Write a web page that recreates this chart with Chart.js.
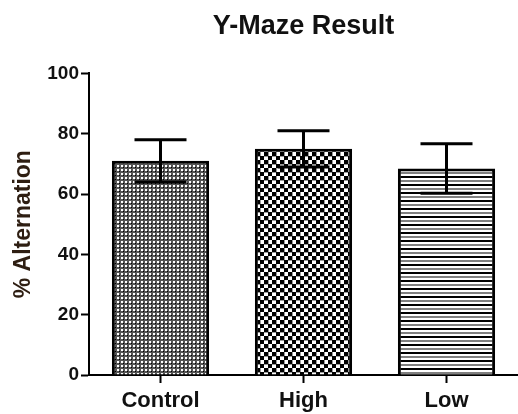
<!DOCTYPE html>
<html>
<head>
<meta charset="utf-8">
<script src="https://cdn.jsdelivr.net/npm/chart.js@4"></script>
<style>
  html, body { margin: 0; padding: 0; background: #fff; }
  #wrap { width: 518px; height: 414px; }
</style>
</head>
<body>
<div id="wrap"><canvas id="maze" width="518" height="414"></canvas></div>
<script>
// values
const groups = ["Control", "High", "Low"];
const meanAlt = [71, 75, 68.5];
const semAlt = [7, 6, 8.2];
const yTicks = [0, 20, 40, 60, 80, 100];

const FONT = "'Liberation Sans', Arial, sans-serif";

/* ---------- fill patterns ---------- */
function makePattern(w, h, paint) {
    const c = document.createElement("canvas");
    c.width = w;
    c.height = h;
    const g = c.getContext("2d");
    paint(g);
    return g.createPattern(c, "repeat");
}

// fine grey dotted texture
const dotFill = makePattern(4, 4, g => {
    g.fillStyle = "#555555";
    g.fillRect(0, 0, 4, 4);
    g.fillStyle = "#ffffff";
    g.fillRect(1, 1, 2, 2);
    g.fillStyle = "#000000";
    g.fillRect(3, 3, 1, 1);
});

// coarse checker
const checkFill = makePattern(8, 8, g => {
    g.fillStyle = "#ffffff";
    g.fillRect(0, 0, 8, 8);
    g.fillStyle = "#000000";
    g.fillRect(0, 0, 4, 4);
    g.fillRect(4, 4, 4, 4);
    g.fillStyle = "#9a9a9a";
    g.fillRect(4, 0, 1, 4);
    g.fillRect(0, 4, 4, 1);
});

// horizontal stripes
const stripeFill = makePattern(4, 8, g => {
    g.fillStyle = "#ffffff";
    g.fillRect(0, 0, 4, 8);
    g.fillStyle = "#000000";
    g.fillRect(0, 0, 4, 2);
    g.fillStyle = "#808080";
    g.fillRect(0, 4, 4, 2);
});

/* ---------- error bars ---------- */
const errorBars = {
    id: "errorBars",
    afterDatasetsDraw(chart) {
        const ctx = chart.ctx;
        const y = chart.scales.y;
        const meta = chart.getDatasetMeta(0);
        ctx.save();
        ctx.strokeStyle = "#000";
        ctx.lineWidth = 3;
        meta.data.forEach((bar, i) => {
            const top = y.getPixelForValue(meanAlt[i] + semAlt[i]);
            const bot = y.getPixelForValue(meanAlt[i] - semAlt[i]);
            const half = 26;
            ctx.beginPath();
            ctx.moveTo(bar.x, top);
            ctx.lineTo(bar.x, bot);
            ctx.moveTo(bar.x - half, top);
            ctx.lineTo(bar.x + half, top);
            ctx.moveTo(bar.x - half, bot);
            ctx.lineTo(bar.x + half, bot);
            ctx.stroke();
        });
        ctx.restore();
    }
};

new Chart(document.getElementById("maze"), {
    type: "bar",
    data: {
        labels: groups,
        datasets: [{
            data: meanAlt,
            backgroundColor: [dotFill, checkFill, stripeFill],
            borderColor: "#000",
            borderWidth: 3,
            barPercentage: 0.68,
            categoryPercentage: 1
        }]
    },
    options: {
        responsive: false,
        animation: false,
        layout: { padding: { left: 0, right: 0, top: 0, bottom: 0 } },
        plugins: {
            legend: { display: false },
            tooltip: { enabled: false },
            title: {
                display: true,
                text: "Y-Maze Result",
                fullSize: false,
                color: "#111",
                font: { family: FONT, size: 27, weight: "bold" },
                padding: { top: 10, bottom: 31 }
            }
        },
        scales: {
            x: {
                offset: true,
                afterFit: s => { s.height = 39; },
                grid: {
                    offset: false,
                    drawOnChartArea: false,
                    drawTicks: true,
                    tickLength: 8,
                    tickWidth: 2,
                    tickColor: "#000"
                },
                border: { display: true, color: "#000", width: 2 },
                ticks: {
                    color: "#111",
                    padding: 5,
                    font: { family: FONT, size: 22, weight: "bold" }
                }
            },
            y: {
                min: 0,
                max: 100,
                afterBuildTicks: s => { s.ticks = yTicks.map(v => ({ value: v })); },
                afterFit: s => { s.width = 89; },
                grid: {
                    drawOnChartArea: false,
                    drawTicks: true,
                    tickLength: 8,
                    tickWidth: 2,
                    tickColor: "#000"
                },
                border: { display: true, color: "#000", width: 2 },
                ticks: {
                    color: "#111",
                    padding: 2,
                    font: { family: FONT, size: 19, weight: "bold" }
                },
                title: {
                    display: true,
                    text: "% Alternation",
                    color: "#2e1e12",
                    padding: { top: 10, bottom: 0 },
                    font: { family: FONT, size: 23, weight: "bold" }
                }
            }
        }
    },
    plugins: [errorBars]
});
</script>
</body>
</html>
